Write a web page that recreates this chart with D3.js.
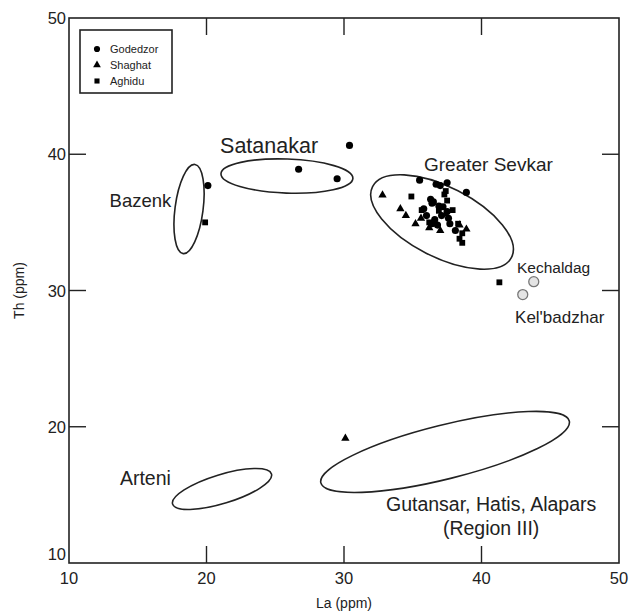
<!DOCTYPE html>
<html><head><meta charset="utf-8">
<script src="https://cdn.jsdelivr.net/npm/d3@7"></script>
<style>body{margin:0;background:#fff}svg{font-family:"Liberation Sans",Arial,Helvetica,sans-serif}</style>
</head><body>
<svg id="c" width="631" height="614"></svg>
<script>
// ---- data ----
const xTicks = [10, 20, 30, 40, 50];
const yTicks = [10, 20, 30, 40, 50];
const godedzor = [[20.1,37.7],[26.7,38.9],[29.5,38.2],[30.4,40.65],
  [35.5,38.1],[36.7,37.8],[37.0,37.7],[37.5,37.9],[38.9,37.2],[36.3,36.7],[36.5,36.5],[36.4,36.4],
  [35.8,36.0],[36.9,36.2],[37.2,36.15],[37.5,35.8],[36.0,35.5],[36.6,35.2],[37.1,35.5],[37.6,35.3],
  [36.4,34.9],[36.8,34.8],[37.7,34.9],[38.1,34.4]];
const shaghat = [[30.1,19.15],[32.8,37.0],[34.1,36.0],[34.5,35.5],[35.2,34.9],[36.2,34.6],[37.0,34.4],
  [38.9,34.5],[38.4,34.8],[37.4,35.6],[35.6,35.3]];
const aghidu = [[19.9,35.0],[41.3,30.6],[34.9,36.9],[37.4,37.3],[37.3,37.05],[35.65,35.9],[36.9,35.85],
  [37.5,36.6],[38.3,34.9],[38.6,34.2],[38.4,33.8],[38.6,33.5],[36.2,35.0],[37.9,35.9]];
const openPts = [[43.8,30.65],[43.0,29.7]];
// ellipses: name, center La, center Th, semi-axis x, semi-axis y (La units), rotation deg
const fields = [
  ["Bazenk", 18.73, 35.98, 1.02, 3.27, 7.5],
  ["Satanakar", 25.85, 38.4, 4.8, 1.24, 2],
  ["Greater Sevkar", 37.13, 35.03, 5.67, 2.55, 27],
  ["Arteni", 21.13, 15.43, 3.76, 1.05, -17],
  ["Gutansar", 37.35, 18.15, 9.31, 1.96, -14]
];
const labels = [
  ["Satanakar", 24.55, 40.1, 21.5, "middle"],
  ["Greater Sevkar", 40.5, 38.77, 19, "middle"],
  ["Bazenk", 12.95, 36.1, 18.5, "start"],
  ["Kechaldag", 42.58, 31.28, 15.5, "start"],
  ["Kel'badzhar", 42.44, 27.6, 17, "start"],
  ["Arteni", 13.7, 15.72, 19.5, "start"],
  ["Gutansar, Hatis, Alapars", 40.7, 13.8, 19.5, "middle"],
  ["(Region III)", 40.7, 12.05, 19.5, "middle"]
];
const legendItems = [["Godedzor","circle"],["Shaghat","triangle"],["Aghidu","square"]];

// ---- chart ----
const svg = d3.select("#c");
const L = 69, R = 619, T = 18, B = 563;
const x = d3.scaleLinear().domain([10,50]).range([L,R]);
const y = d3.scaleLinear().domain([10,50]).range([B,T]);
const ink = "#222";

svg.append("rect").attr("x",L).attr("y",T).attr("width",R-L).attr("height",B-T)
  .attr("fill","none").attr("stroke",ink).attr("stroke-width",1.6);

const tl = 17;
const inner = [20,30,40];
const g = svg.append("g").attr("stroke",ink).attr("stroke-width",1.4);
inner.forEach(v=>{
  g.append("line").attr("x1",x(v)).attr("x2",x(v)).attr("y1",B).attr("y2",B-tl);
  g.append("line").attr("x1",x(v)).attr("x2",x(v)).attr("y1",T).attr("y2",T+tl);
  g.append("line").attr("y1",y(v)).attr("y2",y(v)).attr("x1",L).attr("x2",L+tl);
  g.append("line").attr("y1",y(v)).attr("y2",y(v)).attr("x1",R).attr("x2",R-tl);
});

svg.append("g").selectAll("text").data(xTicks).join("text")
  .attr("x",d=>x(d)).attr("y",B+21).attr("text-anchor","middle")
  .attr("font-size",16.5).attr("fill",ink).text(d=>d);
svg.append("g").selectAll("text").data(yTicks).join("text")
  .attr("x",L-3).attr("y",d=>y(d)+ (d===10 ? -3 : 6)).attr("text-anchor","end")
  .attr("font-size",16.5).attr("fill",ink).text(d=>d);

svg.append("text").attr("x",(L+R)/2).attr("y",608).attr("text-anchor","middle")
  .attr("font-size",14).attr("fill",ink).text("La (ppm)");
svg.append("text").attr("transform",`translate(24,${(T+B)/2}) rotate(-90)`)
  .attr("text-anchor","middle").attr("font-size",14).attr("fill",ink).text("Th (ppm)");

const px = r => x(10+r) - x(10);
svg.append("g").selectAll("ellipse").data(fields).join("ellipse")
  .attr("cx",0).attr("cy",0).attr("rx",d=>px(d[3])).attr("ry",d=>px(d[4]))
  .attr("transform",d=>`translate(${x(d[1])},${y(d[2])}) rotate(${d[5]})`)
  .attr("fill","none").attr("stroke",ink).attr("stroke-width",1.6);

const symType = {circle: d3.symbolCircle, triangle: d3.symbolTriangle, square: d3.symbolSquare};
const symSize = {circle: 40, triangle: 30, square: 34};
function plot(data, type){
  svg.append("g").selectAll("path").data(data).join("path")
    .attr("d", d3.symbol(symType[type], symSize[type]))
    .attr("transform",d=>`translate(${x(d[0])},${y(d[1])})`)
    .attr("fill","#000");
}
plot(aghidu,"square");
plot(shaghat,"triangle");
plot(godedzor,"circle");
svg.append("g").selectAll("circle").data(openPts).join("circle")
  .attr("cx",d=>x(d[0])).attr("cy",d=>y(d[1])).attr("r",5)
  .attr("fill","#e4e4e4").attr("stroke","#777").attr("stroke-width",1.3);

svg.append("g").selectAll("text").data(labels).join("text")
  .attr("x",d=>x(d[1])).attr("y",d=>y(d[2])).attr("font-size",d=>d[3])
  .attr("text-anchor",d=>d[4]).attr("fill",ink).text(d=>d[0]);

const lg = svg.append("g");
lg.append("rect").attr("x",80).attr("y",30).attr("width",92).attr("height",63)
  .attr("fill","#fff").attr("stroke",ink).attr("stroke-width",1.6);
legendItems.forEach((it,i)=>{
  const yy = 49 + i*16;
  lg.append("path").attr("d",d3.symbol(symType[it[1]], it[1]==="circle"?30:26))
    .attr("transform",`translate(97,${yy})`).attr("fill","#000");
  lg.append("text").attr("x",110).attr("y",yy+4).attr("font-size",11).attr("fill",ink).text(it[0]);
});
</script>
</body></html>
